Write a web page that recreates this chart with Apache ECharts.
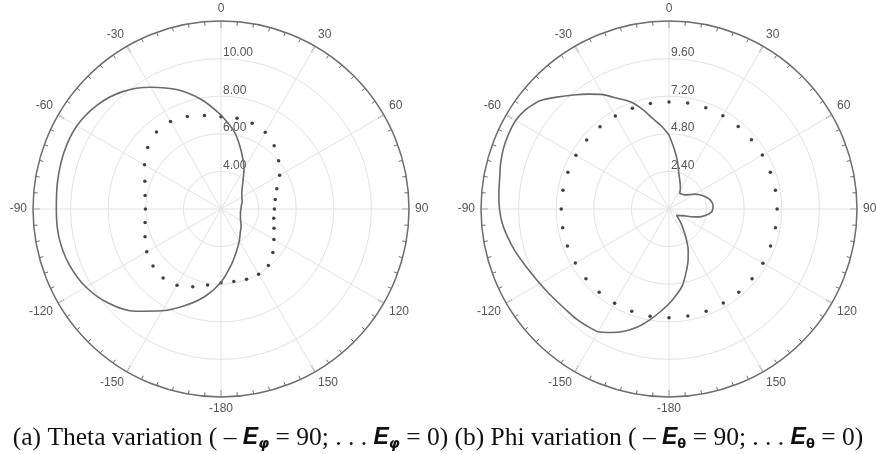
<!DOCTYPE html>
<html>
<head>
<meta charset="utf-8">
<script src="https://cdn.jsdelivr.net/npm/echarts@6/dist/echarts.min.js"></script>
<style>
  html, body { margin: 0; padding: 0; background: #fff; }
  #chart { width: 876px; height: 454px; }
</style>
</head>
<body>
<div id="chart"></div>
<script type="text/javascript">
// angle in degrees, 0 at top, clockwise (values > 180 are the negative side)
var anglesA = [0, 10, 20, 30, 40, 50, 60, 70, 80, 90, 100, 110, 120, 130, 140, 150, 160, 170,
  180, 190, 200, 210, 220, 230, 240, 250, 260, 270, 280, 290, 300, 310, 320, 330, 340, 350, 360];
// (a) theta variation, solid (E_phi = 90)
var thetaSolid = [7.0, 6.15, 5.2, 4.45, 3.8, 3.45, 3.28, 3.2, 3.1, 3.06, 3.05, 3.1, 3.2, 3.4, 3.6, 3.95, 4.4, 5.05,
  5.9, 6.7, 7.45, 8.25, 9.1, 9.8, 10.3, 10.6, 10.75, 10.76, 10.82, 10.88, 10.85, 10.6, 10.15, 9.48, 8.75, 7.9, 7.0];
// (a) theta variation, dotted (E_phi = 0)
var thetaDots = [6.91, 6.9, 6.85, 6.71, 6.4, 6.0, 5.6, 5.16, 4.93, 4.84, 4.85, 5.0, 5.25, 5.6, 5.92, 6.0, 5.97, 5.92,
  5.92, 6.1, 6.4, 6.68, 6.79, 6.72, 6.56, 6.3, 6.1, 6.02, 6.1, 6.31, 6.7, 7.09, 7.34, 7.37, 7.23, 7.05];

var anglesB = [0, 5, 10, 15, 20, 25, 30, 35, 40, 45, 50, 55, 60, 65, 70, 75, 80, 85, 90, 95, 100, 105, 110, 115,
  120, 125, 130, 135, 140, 145, 150, 155, 160, 165, 170, 175, 180, 185, 190, 195, 200, 205, 210, 215, 220, 225,
  230, 235, 240, 245, 250, 255, 260, 265, 270, 275, 280, 285, 290, 295, 300, 305, 310, 315, 320, 325, 330, 335,
  340, 345, 350, 355, 360];
// (b) phi variation, solid (E_theta = 90)
var phiSolid = [4.72, 3.85, 3.1, 2.4, 2.0, 1.7, 1.45, 1.2, 1.25, 1.3, 1.4, 1.6, 1.9, 2.15, 2.4, 2.6, 2.75, 2.82,
  2.8, 2.68, 2.35, 1.95, 1.45, 1.0, 0.85, 0.72, 0.62, 0.85, 1.2, 1.6, 2.2, 2.9, 3.55, 4.2, 4.95, 5.5, 6.05,
  6.6, 7.2, 7.8, 8.3, 8.7, 9.05, 9.12, 9.18, 9.2, 9.26, 9.38, 9.52, 9.7, 9.93, 10.2, 10.45, 10.68, 10.82,
  10.9, 10.98, 11.13, 11.25, 11.3, 11.3, 11.12, 10.75, 10.1, 9.5, 8.95, 8.43, 7.8, 7.3, 6.6, 5.85, 5.3, 4.72];
// (b) phi variation, dotted (E_theta = 0)
var phiDots = [6.83, 6.87, 6.87, 6.88, 6.87, 6.87, 6.88, 6.88, 6.9, 6.9, 6.9, 6.9, 6.92, 6.92, 6.93, 6.93, 6.94, 6.94,
  6.94, 6.95, 6.95, 6.94, 6.93, 6.92, 6.9, 6.9, 6.89, 6.88, 6.87, 6.87, 6.86, 6.86, 6.85, 6.85, 6.84, 6.84];

var ringsA = { min: 2, max: 12, interval: 2 };
var ringsB = { min: 0, max: 12, interval: 2.4 };

function pairs(values, angles) {
  return values.map(function (v, i) { return [v, angles[i]]; });
}

var chart = echarts.init(document.getElementById('chart'));

function angleAxis(idx) {
  return {
    polarIndex: idx,
    type: 'value',
    min: 0,
    max: 360,
    interval: 30,
    startAngle: 90,
    clockwise: true,
    axisLine: { lineStyle: { color: '#6e6e6e', width: 1.5 } },
    axisTick: { inside: true, length: 7, lineStyle: { color: '#6e6e6e', width: 1.2 } },
    minorTick: { show: true, splitNumber: 6, length: 4, lineStyle: { color: '#6e6e6e', width: 1 } },
    axisLabel: {
      margin: 6,
      color: '#555',
      fontSize: 12,
      fontFamily: 'Liberation Sans',
      formatter: function (v) {
        if (v === 360) return '';
        return v > 180 || v === 180 ? String(v - 360) : String(v);
      }
    },
    splitLine: { lineStyle: { color: '#e3e3e3', width: 1 } }
  };
}

function radiusAxis(idx, r) {
  return {
    polarIndex: idx,
    type: 'value',
    min: r.min,
    max: r.max,
    interval: r.interval,
    axisLine: { show: false },
    axisTick: { show: false },
    axisLabel: {
      showMinLabel: false,
      showMaxLabel: false,
      margin: -2,
      align: 'left',
      verticalAlign: 'bottom',
      color: '#555',
      fontSize: 12,
      fontFamily: 'Liberation Sans',
      formatter: function (v) { return v.toFixed(2); }
    },
    splitLine: { lineStyle: { color: '#e3e3e3', width: 1 } }
  };
}

var option = {
  backgroundColor: '#fff',
  animation: false,
  polar: [
    { center: [221, 209], radius: 188 },
    { center: [669, 209], radius: 188 }
  ],
  angleAxis: [angleAxis(0), angleAxis(1)],
  radiusAxis: [radiusAxis(0, ringsA), radiusAxis(1, ringsB)],
  graphic: [{
    type: 'text',
    left: 'center',
    top: 425,
    style: {
      text: '(a) Theta variation ( – {e|E}{s|φ} = 90; . . . {e|E}{s|φ} = 0) (b) Phi variation ( – {e|E}{t|θ} = 90; . . . {e|E}{t|θ} = 0)',
      font: '25.5px "Liberation Serif"',
      fill: '#111',
      rich: {
        e: { fontFamily: 'Liberation Sans', fontStyle: 'italic', fontWeight: 'bold', fontSize: 23, fill: '#111' },
        s: { fontFamily: 'DejaVu Sans', fontStyle: 'italic', fontWeight: 'bold', fontSize: 14, fill: '#111', verticalAlign: 'bottom', padding: [7, 0, 0, 0] },
        t: { fontFamily: 'DejaVu Sans', fontWeight: 'bold', fontSize: 13, fill: '#111', verticalAlign: 'bottom', padding: [7, 0, 0, 0] }
      }
    }
  }],
  series: [
    {
      type: 'line', coordinateSystem: 'polar', polarIndex: 0,
      data: pairs(thetaSolid, anglesA),
      smooth: 0.3, symbol: 'none',
      lineStyle: { color: '#6a6a6a', width: 1.6 }
    },
    {
      type: 'scatter', coordinateSystem: 'polar', polarIndex: 0,
      data: pairs(thetaDots, anglesA),
      symbolSize: 3.5, itemStyle: { color: '#111' }
    },
    {
      type: 'line', coordinateSystem: 'polar', polarIndex: 1,
      data: pairs(phiSolid, anglesB),
      smooth: 0.2, symbol: 'none',
      lineStyle: { color: '#6a6a6a', width: 1.6 }
    },
    {
      type: 'scatter', coordinateSystem: 'polar', polarIndex: 1,
      data: pairs(phiDots, anglesA),
      symbolSize: 3.5, itemStyle: { color: '#111' }
    }
  ]
};

chart.setOption(option);
</script>
</body>
</html>
